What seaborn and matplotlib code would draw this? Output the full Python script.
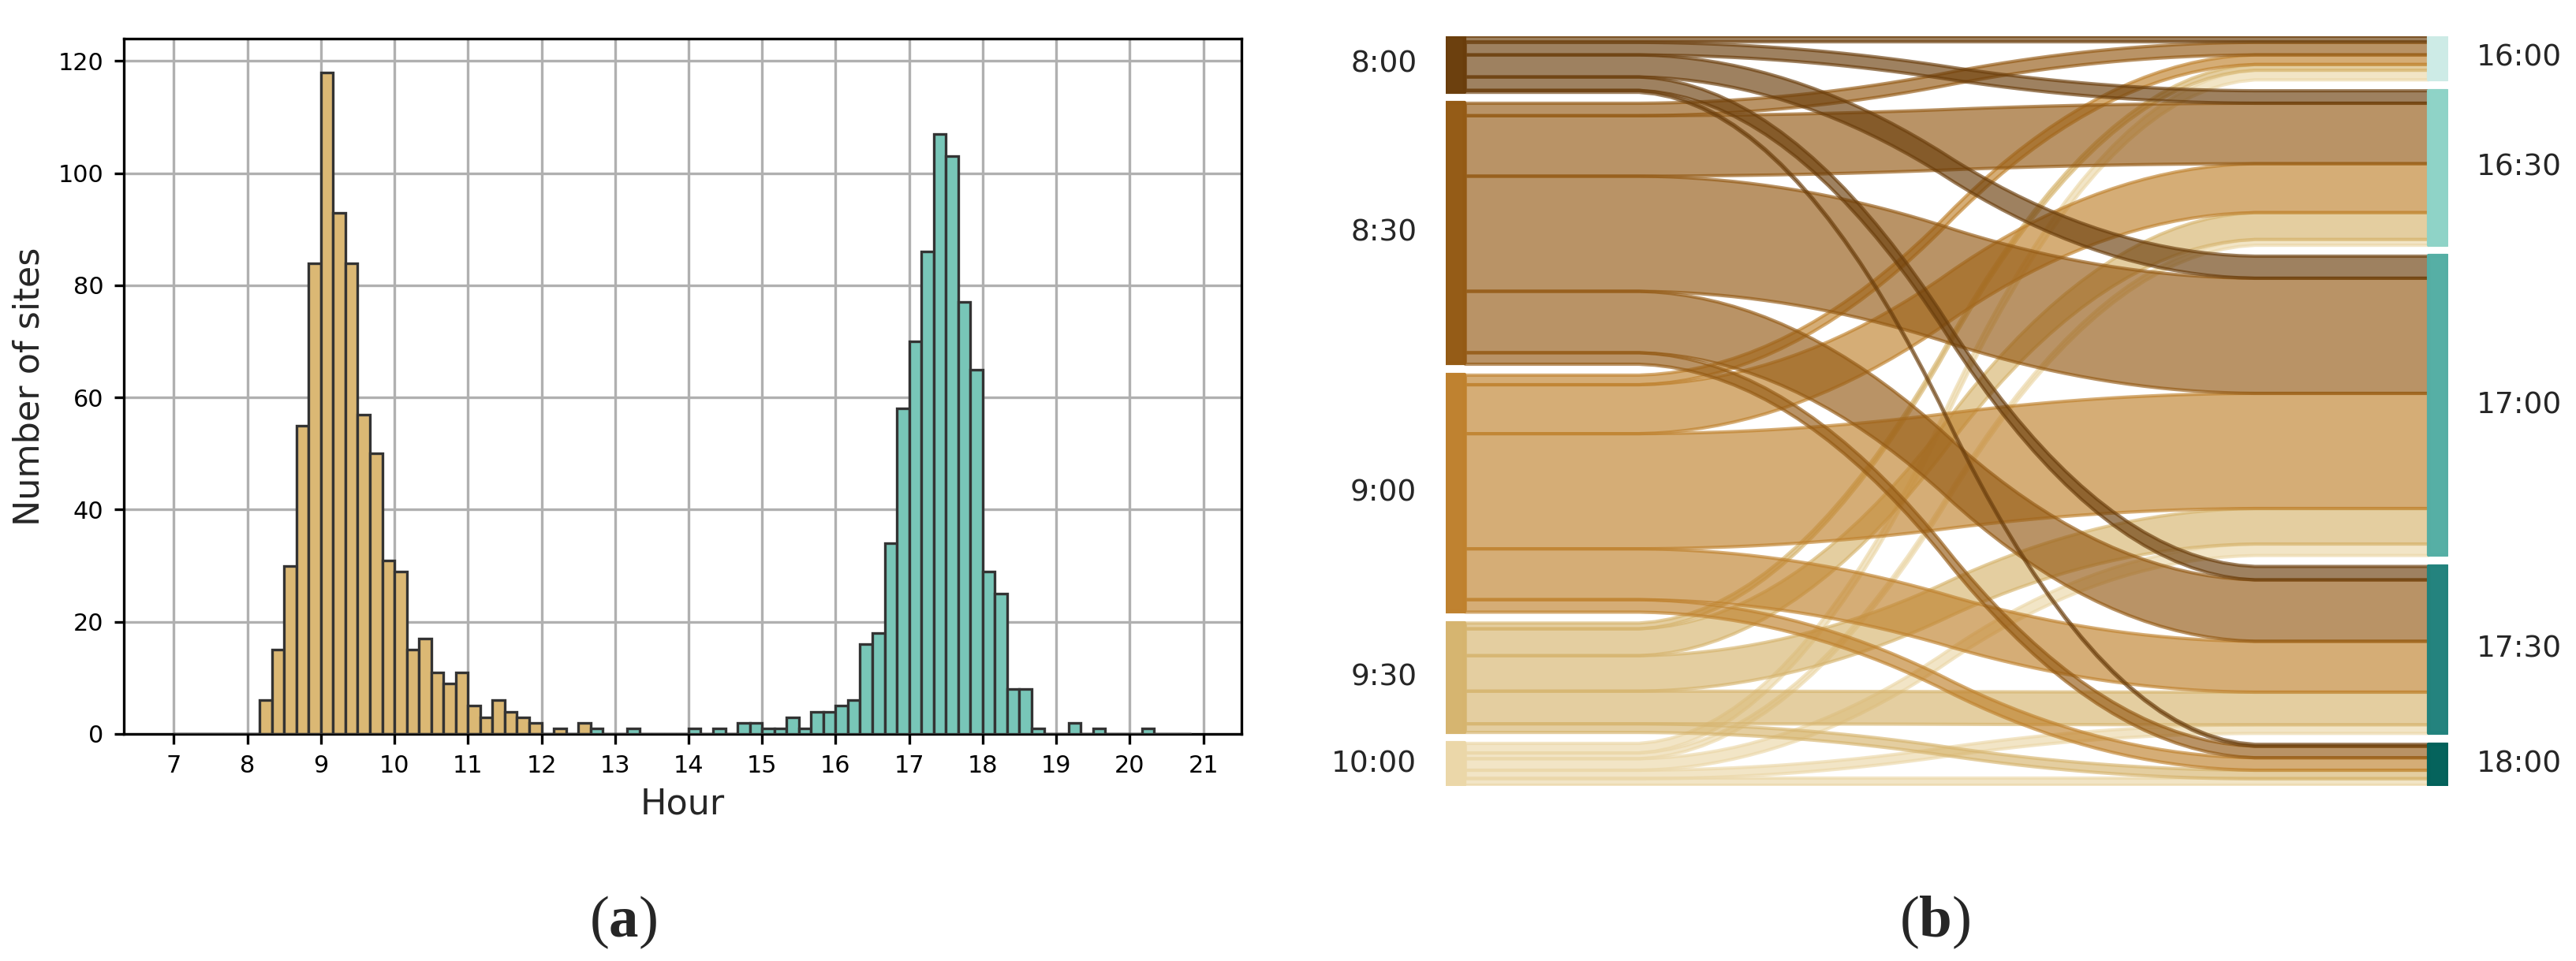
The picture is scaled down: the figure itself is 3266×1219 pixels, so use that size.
import numpy as np
import pandas as pd
import matplotlib
matplotlib.use("Agg")
import matplotlib.pyplot as plt
import seaborn as sns

# ---------------- data: histogram of arrival / departure times (10-min bins) -------------
arrival_bin_start_min = [490, 500, 510, 520, 530, 540, 550, 560, 570, 580, 590, 600, 610,
                         620, 630, 640, 650, 660, 670, 680, 690, 700, 710, 730, 750]
arrival_counts = [6, 15, 30, 55, 84, 118, 93, 84, 57, 50, 31, 29, 15,
                  17, 11, 9, 11, 5, 3, 6, 4, 3, 2, 1, 2]

departure_bin_start_min = [760, 790, 840, 860, 880, 890, 900, 910, 920, 930, 940, 950, 960,
                           970, 980, 990, 1000, 1010, 1020, 1030, 1040, 1050, 1060, 1070,
                           1080, 1090, 1100, 1110, 1120, 1150, 1170, 1210]
departure_counts = [1, 1, 1, 1, 2, 2, 1, 1, 3, 1, 4, 4, 5,
                    6, 16, 18, 34, 58, 70, 86, 107, 103, 77, 65,
                    29, 25, 8, 8, 1, 2, 1, 1]

hour_ticks = [7, 8, 9, 10, 11, 12, 13, 14, 15, 16, 17, 18, 19, 20, 21]
count_ticks = [0, 20, 40, 60, 80, 100, 120]

# ---------------- data: Sankey arrival slot -> departure slot ----------------
arrive_labels = ["8:00", "8:30", "9:00", "9:30", "10:00"]
depart_labels = ["16:00", "16:30", "17:00", "17:30", "18:00"]
flow_0800 = [6, 13, 23, 14, 2]
flow_0830 = [13, 63, 120, 64, 12]
flow_0900 = [10, 51, 120, 53, 13]
flow_0930 = [6, 28, 37, 34, 9]
flow_1000 = [10, 6, 12, 9, 7]

arrive_colors = ["#6a3d0b", "#945a14", "#bf812d", "#d6b46e", "#ebd7a8"]
depart_colors = ["#cdebe6", "#8ed3c7", "#54aea4", "#21827c", "#02615a"]
arrival_hist_color = "#dbb874"
departure_hist_color = "#78c6b8"

# ---------------- figure ----------------
sns.set_style("ticks")
plt.rcParams["font.family"] = ["DejaVu Sans"]
plt.rcParams["mathtext.fontset"] = "custom"
plt.rcParams["mathtext.rm"] = "Liberation Serif"
plt.rcParams["mathtext.bf"] = "Liberation Serif:bold"

W, H = 3266, 1219
DPI = 300
fig = plt.figure(figsize=(W / DPI, H / DPI), dpi=DPI)

# ---- panel (a): histogram ----
ax1 = fig.add_axes([157 / W, 1 - 931 / H, (1574 - 157) / W, (931 - 49) / H])
edges = list(np.arange(420, 1251, 10) / 60.0)
arr_df = pd.DataFrame({"hour": (np.array(arrival_bin_start_min) + 5) / 60.0,
                       "n": arrival_counts})
dep_df = pd.DataFrame({"hour": (np.array(departure_bin_start_min) + 5) / 60.0,
                       "n": departure_counts})
sns.histplot(data=arr_df, x="hour", weights="n", bins=edges, color=arrival_hist_color,
             edgecolor="#333333", linewidth=0.8, alpha=1, ax=ax1, zorder=3)
sns.histplot(data=dep_df, x="hour", weights="n", bins=edges, color=departure_hist_color,
             edgecolor="#333333", linewidth=0.8, alpha=1, ax=ax1, zorder=3)
ax1.set_xlim(6.32, 21.52)
ax1.set_ylim(0, 124)
ax1.set_xticks(hour_ticks)
ax1.set_yticks(count_ticks)
ax1.grid(True, color="#b0b0b0", linewidth=0.8, zorder=0)
ax1.set_axisbelow(True)
for s in ax1.spines.values():
    s.set_visible(True)
    s.set_color("black")
    s.set_linewidth(0.8)
ax1.tick_params(axis="both", direction="out", length=3, width=0.8, labelsize=7.3,
                colors="black", pad=3.2)
ax1.set_xlabel("Hour", fontsize=10.7, labelpad=3)
ax1.set_ylabel("Number of sites", fontsize=10.7, labelpad=3.5)

# ---- panel (b): Sankey ----
ax2 = fig.add_axes([1833 / W, 1 - 996 / H, (3103 - 1833) / W, (996 - 46) / H])
flows = np.array([flow_0800, flow_0830, flow_0900, flow_0930, flow_1000], dtype=float)
total = flows.sum()
gap = 0.0155 * total

left_tot = flows.sum(axis=1)
right_tot = flows.sum(axis=0)
left_top = np.concatenate([[0], np.cumsum(left_tot + gap)[:-1]])
right_top = np.concatenate([[0], np.cumsum(right_tot + gap)[:-1]])
extent = left_top[-1] + left_tot[-1]


def smooth(a, b):
    arr = np.array(50 * [a] + 50 * [b], dtype=float)
    arr = np.convolve(arr, 0.05 * np.ones(20), mode="valid")
    arr = np.convolve(arr, 0.05 * np.ones(20), mode="valid")
    return arr


left_pos = {}
for i in range(len(arrive_labels)):
    y = left_top[i]
    for j in range(len(depart_labels)):
        left_pos[(i, j)] = (y, y + flows[i, j])
        y += flows[i, j]
right_pos = {}
for j in range(len(depart_labels)):
    y = right_top[j]
    for i in range(len(arrive_labels)):
        right_pos[(i, j)] = (y, y + flows[i, j])
        y += flows[i, j]

xs = np.linspace(0, 1, 62)
for i in reversed(range(len(arrive_labels))):
    for j in reversed(range(len(depart_labels))):
        if flows[i, j] <= 0:
            continue
        lt, lb = left_pos[(i, j)]
        rt, rb = right_pos[(i, j)]
        ax2.fill_between(xs, smooth(lt, rt), smooth(lb, rb), color=arrive_colors[i],
                         alpha=0.65, linewidth=1.0)

for i, lab in enumerate(arrive_labels):
    ax2.fill_between([-0.02, 0], [left_top[i]] * 2, [left_top[i] + left_tot[i]] * 2,
                     color=arrive_colors[i], alpha=0.99, linewidth=1.0)
    ax2.text(-0.05, left_top[i] + left_tot[i] / 2, lab, ha="right", va="center",
             fontsize=9)
for j, lab in enumerate(depart_labels):
    ax2.fill_between([1, 1.02], [right_top[j]] * 2, [right_top[j] + right_tot[j]] * 2,
                     color=depart_colors[j], alpha=0.99, linewidth=1.0)
    ax2.text(1.05, right_top[j] + right_tot[j] / 2, lab, ha="left", va="center",
             fontsize=9)

ax2.set_xlim(-0.02, 1.02)
ax2.set_ylim(extent, 0)
ax2.axis("off")

# ---- captions ----
fig.text(790 / W, 1 - 1169 / H, r"$\mathrm{(}\mathbf{a}\mathrm{)}$", ha="center",
         va="center", fontsize=18)
fig.text(2453 / W, 1 - 1169 / H, r"$\mathrm{(}\mathbf{b}\mathrm{)}$", ha="center",
         va="center", fontsize=18)

fig.savefig("out.png", dpi=DPI)
